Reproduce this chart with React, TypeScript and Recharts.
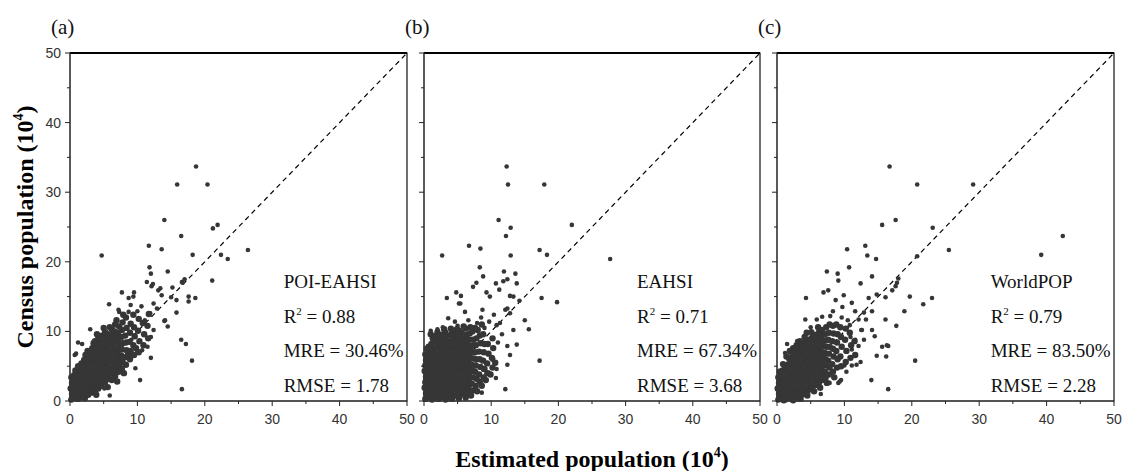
import React from 'react';
import { ScatterChart, Scatter, XAxis, YAxis, ReferenceLine, ReferenceArea } from 'recharts';

type Pt = [number, number];

// axis ticks: majors carry labels, the odd fives are minor marks
const axisTicks = [0, 5, 10, 15, 20, 25, 30, 35, 40, 45, 50];
const panelTags = ['(a)', '(b)', '(c)'];
const modelNames = ['POI-EAHSI', 'EAHSI', 'WorldPOP'];
const r2Values = ['0.88', '0.71', '0.79'];
const mreValues = ['30.46%', '67.34%', '83.50%'];
const rmseValues = ['1.78', '3.68', '2.28'];

// (a) POI-EAHSI
const poiDense: Pt[] = [
  [0.2,0.2],[0.3,1.0],[0.1,1.8],[0.3,2.6],[0.2,3.4],
  [0.7,0.5],[0.6,1.3],[0.8,2.1],[0.7,2.9],[0.6,3.7],[0.8,4.4],
  [1.2,0.3],[1.1,1.0],[1.3,1.8],[1.2,2.6],[1.1,3.4],[1.3,4.2],[1.2,5.0],
  [1.7,0.6],[1.8,1.4],[1.6,2.2],[1.7,3.0],[1.8,3.8],[1.6,4.6],[1.7,5.4],
  [2.2,0.4],[2.1,1.1],[2.3,1.9],[2.2,2.7],[2.1,3.5],[2.3,4.3],[2.2,5.1],[2.1,5.9],[2.3,6.6],
  [2.7,0.9],[2.8,1.6],[2.6,2.4],[2.7,3.2],[2.8,4.0],[2.6,4.8],[2.7,5.6],[2.8,6.4],[2.6,7.2],
  [3.2,1.2],[3.1,2.0],[3.3,2.8],[3.2,3.6],[3.1,4.4],[3.3,5.2],[3.2,6.0],[3.1,6.8],[3.3,7.6],
  [3.7,1.5],[3.8,2.3],[3.6,3.1],[3.7,3.9],[3.8,4.7],[3.6,5.5],[3.7,6.3],[3.8,7.1],[3.6,7.9],[3.7,8.6],
  [4.2,1.8],[4.1,2.6],[4.3,3.4],[4.2,4.2],[4.1,5.0],[4.3,5.8],[4.2,6.6],[4.1,7.4],[4.3,8.2],[4.2,9.0],
  [4.7,2.2],[4.8,3.0],[4.6,3.8],[4.7,4.6],[4.8,5.4],[4.6,6.2],[4.7,7.0],[4.8,7.8],[4.6,8.6],[4.7,9.4],
  [5.2,2.7],[5.1,3.5],[5.3,4.3],[5.2,5.1],[5.1,5.9],[5.3,6.7],[5.2,7.5],[5.1,8.3],[5.3,9.1],[5.2,9.9],
  [5.7,3.2],[5.8,4.0],[5.6,4.8],[5.7,5.6],[5.8,6.4],[5.6,7.2],[5.7,8.0],[5.8,8.8],[5.6,9.6],
  [6.2,3.0],[6.1,3.9],[6.3,4.7],[6.2,5.5],[6.1,6.3],[6.3,7.1],[6.2,7.9],[6.1,8.7],[6.3,9.5],[6.2,10.3],
  [6.7,3.6],[6.8,4.4],[6.6,5.2],[6.7,6.0],[6.8,6.8],[6.6,7.6],[6.7,8.4],[6.8,9.2],[6.6,10.0],[6.7,11.0],
  [7.2,4.2],[7.1,5.0],[7.3,5.8],[7.2,6.6],[7.1,7.4],[7.3,8.2],[7.2,9.0],[7.1,9.8],[7.3,10.7],
  [7.7,4.6],[7.8,5.6],[7.6,6.5],[7.7,7.4],[7.8,8.3],[7.6,9.2],[7.7,10.2],[7.8,11.3],
  [8.3,5.2],[8.2,6.3],[8.4,7.3],[8.3,8.4],[8.2,9.4],[8.4,10.5],[8.3,12.0],
  [8.9,6.0],[9.0,7.2],[8.8,8.5],[8.9,9.8],[9.0,11.1],
  [9.5,6.6],[9.4,8.0],[9.6,9.3],[9.5,10.6],[9.4,12.4],
  [10.2,7.0],[10.3,8.6],[10.1,10.1],[10.2,11.8],
  [10.9,8.0],[11.0,9.6],[10.8,11.2],
  [11.6,9.0],[11.5,10.8],[11.7,12.5],
  [0.5,0.9],[1.0,2.3],[1.5,3.6],[2.0,4.8],[2.5,5.9],[3.0,7.2],[3.5,8.3],[4.0,9.6],
  [2.4,1.4],[3.4,2.4],[4.4,2.9],[5.4,3.9],[6.4,4.3],[7.4,5.4],[8.6,6.6],[9.8,7.6],
  [5.0,10.5],[5.9,10.6],[6.9,11.6],[7.9,12.4],[3.9,0.9],[5.6,2.0],[7.0,2.8],[8.0,4.0],
];
const poiSparse: Pt[] = [
  [18.7,33.7],[15.9,31.1],[20.4,31.1],[14.0,26.0],[21.2,24.8],[21.9,25.3],[16.5,23.7],
  [4.7,20.9],[11.7,22.3],[13.6,21.8],[18.2,21.0],[22.4,21.0],[23.4,20.4],[26.4,21.7],
  [21.1,17.3],[18.6,14.8],[17.6,14.3],[17.6,15.0],[16.6,17.1],[17.0,17.5],[15.2,16.3],
  [14.5,18.6],[15.8,14.5],[15.8,12.7],[14.0,11.5],[14.5,10.7],[16.5,8.8],[17.2,8.2],
  [18.1,5.8],[16.6,1.7],[10.4,3.0],[12.0,6.2],[5.9,0.8],[11.8,19.2],[12.0,18.3],
  [11.4,17.1],[12.1,16.5],[13.1,15.9],[13.6,15.2],[12.9,13.3],[12.4,14.0],[7.7,15.6],
  [9.5,15.6],[9.4,15.0],[8.7,14.8],[5.8,13.9],[7.2,13.1],[3.0,10.3],[1.2,8.4],[1.8,8.2],
  [0.9,6.8],[12.3,16.8],[13.4,16.2],[16.7,17.0],[15.0,14.9],[14.1,11.6],[8.7,12.8],
  [7.3,12.8],[0.7,6.6],[11.1,11.6],[12.4,10.2],[11.5,7.8],[12.0,9.2],[10.7,7.3],[9.9,7.3],
  [9.1,8.8],[10.6,13.6],[9.7,4.7],[6.5,3.1],[5.1,1.8],[10.0,12.9],[9.0,13.8],[11.9,12.6],
];

// (b) EAHSI
const eahsiDense: Pt[] = [
  [0.2,0.3],[0.3,1.1],[0.1,1.9],[0.2,2.7],[0.3,3.5],[0.1,4.3],[0.2,5.1],[0.3,5.9],[0.2,6.7],
  [0.7,0.6],[0.6,1.4],[0.8,2.2],[0.7,3.0],[0.6,3.8],[0.8,4.6],[0.7,5.4],[0.6,6.2],[0.8,7.0],[0.7,7.8],
  [1.2,0.2],[1.1,1.0],[1.3,1.8],[1.2,2.6],[1.1,3.4],[1.3,4.2],[1.2,5.0],[1.1,5.8],[1.3,6.6],[1.2,7.4],[1.1,8.2],[1.3,9.0],
  [1.7,0.5],[1.8,1.3],[1.6,2.1],[1.7,2.9],[1.8,3.7],[1.6,4.5],[1.7,5.3],[1.8,6.1],[1.6,6.9],[1.7,7.7],[1.8,8.5],[1.6,9.3],
  [2.2,0.3],[2.1,1.1],[2.3,1.9],[2.2,2.7],[2.1,3.5],[2.3,4.3],[2.2,5.1],[2.1,5.9],[2.3,6.7],[2.2,7.5],[2.1,8.3],[2.3,9.1],
  [2.7,0.6],[2.8,1.4],[2.6,2.2],[2.7,3.0],[2.8,3.8],[2.6,4.6],[2.7,5.4],[2.8,6.2],[2.6,7.0],[2.7,7.8],[2.8,8.6],[2.6,9.5],
  [3.2,0.2],[3.1,1.0],[3.3,1.8],[3.2,2.6],[3.1,3.4],[3.3,4.2],[3.2,5.0],[3.1,5.8],[3.3,6.6],[3.2,7.4],[3.1,8.2],[3.3,9.0],[3.2,9.8],
  [3.7,0.5],[3.8,1.3],[3.6,2.1],[3.7,2.9],[3.8,3.7],[3.6,4.5],[3.7,5.3],[3.8,6.1],[3.6,6.9],[3.7,7.7],[3.8,8.5],[3.6,9.4],
  [4.2,0.3],[4.1,1.1],[4.3,1.9],[4.2,2.7],[4.1,3.5],[4.3,4.3],[4.2,5.1],[4.1,5.9],[4.3,6.7],[4.2,7.5],[4.1,8.3],[4.3,9.1],[4.2,9.9],
  [4.7,0.8],[4.8,1.6],[4.6,2.4],[4.7,3.2],[4.8,4.0],[4.6,4.8],[4.7,5.6],[4.8,6.4],[4.6,7.2],[4.7,8.0],[4.8,8.8],[4.6,9.6],
  [5.2,0.4],[5.1,1.2],[5.3,2.0],[5.2,2.8],[5.1,3.6],[5.3,4.4],[5.2,5.2],[5.1,6.0],[5.3,6.8],[5.2,7.6],[5.1,8.4],[5.3,9.2],[5.2,10.1],
  [5.7,1.0],[5.8,1.8],[5.6,2.6],[5.7,3.4],[5.8,4.2],[5.6,5.0],[5.7,5.8],[5.8,6.6],[5.6,7.4],[5.7,8.2],[5.8,9.0],[5.6,9.8],
  [6.2,0.5],[6.1,1.4],[6.3,2.2],[6.2,3.0],[6.1,3.8],[6.3,4.6],[6.2,5.4],[6.1,6.2],[6.3,7.0],[6.2,7.8],[6.1,8.6],[6.3,9.5],[6.2,10.4],
  [6.7,1.6],[6.8,2.4],[6.6,3.2],[6.7,4.0],[6.8,4.8],[6.6,5.6],[6.7,6.4],[6.8,7.2],[6.6,8.0],[6.7,8.8],[6.8,9.7],
  [7.2,1.5],[7.1,2.5],[7.3,3.4],[7.2,4.3],[7.1,5.2],[7.3,6.1],[7.2,7.0],[7.1,7.9],[7.3,8.8],[7.2,10.0],
  [7.7,2.2],[7.8,3.2],[7.6,4.2],[7.7,5.1],[7.8,6.0],[7.6,7.0],[7.7,8.0],[7.8,9.0],[7.6,10.5],
  [8.3,2.8],[8.2,3.8],[8.4,4.9],[8.3,6.0],[8.2,7.1],[8.4,8.3],[8.3,9.4],
  [8.9,3.4],[9.0,4.6],[8.8,5.8],[8.9,7.0],[9.0,8.2],[8.8,9.6],
  [9.5,4.0],[9.4,5.4],[9.6,6.8],[9.5,8.2],
  [10.2,4.8],[10.1,6.2],[10.3,7.6],[10.2,9.0],
  [0.4,7.5],[1.0,9.6],[2.0,9.9],[3.0,10.3],[4.0,10.4],[4.9,10.3],[5.9,10.7],[6.9,10.6],
  [8.0,10.2],[8.6,11.0],[7.0,0.8],[7.9,1.4],[8.6,2.2],[9.2,3.0],[9.9,3.8],[10.6,5.5],
];
const eahsiSparse: Pt[] = [
  [12.3,33.7],[12.5,31.1],[17.9,31.1],[11.1,26.0],[12.9,24.9],[12.2,23.7],[22.0,25.3],
  [2.7,20.9],[6.7,22.3],[8.4,21.9],[12.9,20.9],[17.2,21.7],[18.3,21.0],[27.7,20.4],
  [8.3,19.2],[11.9,18.6],[12.4,17.5],[13.6,18.3],[13.8,16.9],[10.7,16.9],[19.8,14.2],
  [17.5,14.8],[17.2,5.8],[12.1,1.7],[6.4,1.1],[10.7,3.3],[3.4,14.8],[4.8,15.6],[5.4,14.0],
  [7.3,16.4],[7.8,17.0],[9.3,15.6],[9.8,15.0],[13.3,15.0],[14.2,14.4],[15.0,11.6],
  [15.6,10.3],[13.8,8.1],[12.4,7.9],[13.3,10.2],[11.3,11.2],[12.1,13.1],[8.7,13.1],
  [10.3,6.1],[9.6,6.8],[8.8,4.5],[11.8,17.2],[8.8,17.9],[5.5,15.1],[5.2,14.0],[11.2,16.0],
  [12.8,15.1],[12.8,12.6],[12.4,13.3],[11.6,9.6],[10.8,10.9],[9.7,11.4],[3.6,11.9],
  [4.6,11.4],[2.0,10.3],[6.1,12.8],[6.6,11.6],[8.5,12.0],[10.4,12.4],[12.4,5.2],
  [12.8,6.6],[10.2,5.9],[9.3,4.0],[7.7,2.0],[6.8,3.0],[1.0,10.1],[2.8,10.6],[5.0,10.8],
  [7.9,11.2],[9.0,10.5],[11.0,8.4],[10.8,4.6],[8.6,1.2],
];

// (c) WorldPOP
const worldDense: Pt[] = [
  [0.2,0.2],[0.3,1.0],[0.1,1.8],[0.3,2.6],[0.2,3.4],
  [0.7,0.4],[0.6,1.2],[0.8,2.0],[0.7,2.8],[0.6,3.6],[0.8,4.4],
  [1.2,0.2],[1.1,1.0],[1.3,1.8],[1.2,2.6],[1.1,3.4],[1.3,4.2],[1.2,5.0],
  [1.7,0.5],[1.8,1.3],[1.6,2.1],[1.7,2.9],[1.8,3.7],[1.6,4.5],[1.7,5.3],[1.8,6.1],
  [2.2,0.3],[2.1,1.1],[2.3,1.9],[2.2,2.7],[2.1,3.5],[2.3,4.3],[2.2,5.1],[2.1,5.9],[2.3,6.7],
  [2.7,0.7],[2.8,1.5],[2.6,2.3],[2.7,3.1],[2.8,3.9],[2.6,4.7],[2.7,5.5],[2.8,6.3],[2.6,7.1],
  [3.2,0.4],[3.1,1.2],[3.3,2.0],[3.2,2.8],[3.1,3.6],[3.3,4.4],[3.2,5.2],[3.1,6.0],[3.3,6.8],[3.2,7.6],
  [3.7,0.9],[3.8,1.7],[3.6,2.5],[3.7,3.3],[3.8,4.1],[3.6,4.9],[3.7,5.7],[3.8,6.5],[3.6,7.3],[3.7,8.1],
  [4.2,1.2],[4.1,2.0],[4.3,2.8],[4.2,3.6],[4.1,4.4],[4.3,5.2],[4.2,6.0],[4.1,6.8],[4.3,7.6],[4.2,8.4],[4.1,9.2],
  [4.7,1.6],[4.8,2.4],[4.6,3.2],[4.7,4.0],[4.8,4.8],[4.6,5.6],[4.7,6.4],[4.8,7.2],[4.6,8.0],[4.7,8.8],
  [5.2,1.9],[5.1,2.7],[5.3,3.5],[5.2,4.3],[5.1,5.1],[5.3,5.9],[5.2,6.7],[5.1,7.5],[5.3,8.3],[5.2,9.1],[5.1,9.9],
  [5.7,2.3],[5.8,3.1],[5.6,3.9],[5.7,4.7],[5.8,5.5],[5.6,6.3],[5.7,7.1],[5.8,7.9],[5.6,8.7],[5.7,9.5],
  [6.2,2.6],[6.1,3.4],[6.3,4.2],[6.2,5.0],[6.1,5.8],[6.3,6.6],[6.2,7.4],[6.1,8.2],[6.3,9.0],[6.2,9.8],[6.1,10.6],
  [6.7,3.0],[6.8,3.8],[6.6,4.6],[6.7,5.4],[6.8,6.2],[6.6,7.0],[6.7,7.8],[6.8,8.6],[6.6,9.4],[6.7,10.2],
  [7.2,3.3],[7.1,4.2],[7.3,5.1],[7.2,6.0],[7.1,6.9],[7.3,7.8],[7.2,8.7],[7.1,9.6],[7.3,10.6],
  [7.7,3.8],[7.8,4.8],[7.6,5.8],[7.7,6.8],[7.8,7.8],[7.6,8.8],[7.7,9.8],[7.8,11.0],
  [8.3,4.2],[8.2,5.3],[8.4,6.4],[8.3,7.5],[8.2,8.6],[8.4,9.7],[8.3,10.8],
  [8.9,4.8],[9.0,6.0],[8.8,7.2],[8.9,8.4],[9.0,9.6],[8.8,11.0],
  [9.5,5.0],[9.4,6.4],[9.6,7.8],[9.5,9.2],[9.4,10.6],
  [10.2,5.6],[10.3,7.2],[10.1,8.8],[10.2,10.4],
  [10.9,6.2],[11.0,8.0],[10.8,9.8],
  [11.6,6.6],[11.5,8.6],
  [0.4,4.2],[0.9,5.3],[1.4,6.4],[1.9,7.2],[2.4,7.6],[2.9,8.0],[3.4,8.6],[4.4,9.8],
  [1.0,0.1],[2.4,0.1],[3.5,0.3],[4.5,0.8],[5.5,1.4],[6.4,1.9],[7.4,2.6],[8.5,3.4],
];
const worldSparse: Pt[] = [
  [16.7,33.7],[20.8,31.1],[29.1,31.1],[15.6,25.3],[17.6,26.0],[23.1,24.9],[42.4,23.7],
  [39.2,21.0],[10.4,21.8],[13.1,22.3],[13.4,20.9],[14.7,20.4],[20.8,20.8],[25.5,21.7],
  [7.4,18.6],[10.7,19.2],[9.0,18.3],[9.1,17.3],[6.9,15.6],[7.6,15.9],[4.3,14.8],
  [12.4,16.9],[14.1,17.9],[18.0,17.6],[17.6,16.5],[17.1,15.9],[19.7,15.0],[23.0,14.8],
  [21.7,13.9],[18.9,12.9],[17.7,10.8],[16.1,11.7],[14.8,15.3],[20.5,5.8],[16.5,1.7],
  [14.0,3.0],[16.3,8.0],[16.2,6.4],[14.8,6.5],[14.5,9.3],[13.2,11.7],[12.6,10.2],
  [10.8,10.9],[11.8,5.2],[9.3,2.8],[6.5,1.0],[4.6,1.1],[8.7,14.5],[9.9,15.2],[9.7,13.5],
  [11.1,14.1],[13.6,14.8],[17.8,17.0],[16.1,14.9],[14.1,12.9],[12.9,12.7],[12.1,11.7],
  [14.1,10.2],[12.5,10.2],[15.6,7.8],[16.5,7.9],[12.4,5.6],[11.1,5.1],[10.0,5.1],
  [9.1,2.6],[9.5,3.0],[1.5,8.2],[1.2,6.9],[4.2,11.7],[5.9,11.7],[6.7,12.1],[7.9,12.2],
  [10.9,9.2],[11.6,8.8],[12.9,8.8],[11.1,7.4],[12.1,7.9],[3.0,8.6],[5.0,10.6],[8.3,12.9],
  [9.6,12.0],[10.5,11.6],[11.6,12.9],[10.3,4.2],[7.8,2.6],
];

const panels = [
  { left: 70, right: 407, dense: poiDense, sparse: poiSparse },
  { left: 424, right: 760, dense: eahsiDense, sparse: eahsiSparse },
  { left: 777, right: 1114, dense: worldDense, sparse: worldSparse },
];

const W = 1124;
const H = 471;
const TOP = 53;
const BOTTOM = 401;
const SANS = '"Liberation Sans", Arial, sans-serif';
const SERIF = '"Liberation Serif", "Times New Roman", serif';
const DOT = '#363636';

const XTick = (p: any) => {
  const major = p.payload.value % 10 === 0;
  return (
    <g>
      <line x1={p.x} x2={p.x} y1={p.y} y2={p.y + (major ? 5 : 3)} stroke="#222" />
      {major && (
        <text x={p.x} y={p.y + 23} textAnchor="middle" fontFamily={SANS} fontSize={14} fill="#333">
          {p.payload.value}
        </text>
      )}
    </g>
  );
};

const YTick = (p: any, labels: boolean) => {
  const major = p.payload.value % 10 === 0;
  return (
    <g>
      <line x1={p.x} x2={p.x - (major ? 5 : 3)} y1={p.y} y2={p.y} stroke="#222" />
      {major && labels && (
        <text x={p.x - 9} y={p.y + 5} textAnchor="end" fontFamily={SANS} fontSize={14} fill="#333">
          {p.payload.value}
        </text>
      )}
    </g>
  );
};

const BigDot = (p: any) => <circle cx={p.cx} cy={p.cy} r={3.2} fill={DOT} />;
const SmallDot = (p: any) => <circle cx={p.cx} cy={p.cy} r={2.3} fill={DOT} />;

const toRows = (pts: Pt[]) => pts.map(([x, y]) => ({ x, y }));

const Panel = ({ left, right, dense, sparse, index }: { left: number; right: number; dense: Pt[]; sparse: Pt[]; index: number }) => (
  <div style={{ position: 'absolute', left: 0, top: 0 }}>
    <ScatterChart width={W} height={H} margin={{ top: TOP, left: left - 1, right: W - right, bottom: H - BOTTOM - 1 }}>
      <XAxis
        type="number"
        dataKey="x"
        domain={[0, 50]}
        ticks={axisTicks}
        interval={0}
        height={1}
        tickSize={0}
        tickMargin={0}
        tickLine={false}
        axisLine={{ stroke: '#222' }}
        tick={(p: any) => <XTick {...p} />}
      />
      <YAxis
        type="number"
        dataKey="y"
        domain={[0, 50]}
        ticks={axisTicks}
        interval={0}
        width={1}
        tickSize={0}
        tickMargin={0}
        tickLine={false}
        axisLine={{ stroke: '#444' }}
        tick={(p: any) => YTick(p, index === 0)}
      />
      <ReferenceArea x1={0} x2={50} y1={0} y2={50} fill="none" stroke="#111" strokeWidth={1.2} />
      <ReferenceLine y={50} stroke="#000" strokeWidth={2} />
      <Scatter data={toRows(dense)} isAnimationActive={false} shape={BigDot} />
      <Scatter data={toRows(sparse)} isAnimationActive={false} shape={SmallDot} />
      <ReferenceLine
        segment={[{ x: 0, y: 0 }, { x: 50, y: 50 }]}
        stroke="#000"
        strokeWidth={1.2}
        strokeDasharray="5 4"
      />
    </ScatterChart>
  </div>
);

export default function App() {
  return (
    <div style={{ position: 'absolute', left: 0, top: 0, width: W, height: H, background: '#fff' }}>
      {panels.map((p, i) => (
        <Panel key={i} index={i} left={p.left} right={p.right} dense={p.dense} sparse={p.sparse} />
      ))}
      <svg width={W} height={H} style={{ position: 'absolute', left: 0, top: 0, pointerEvents: 'none' }}>
        {panels.map((p, i) => {
          const tx = p.left + (31.7 / 50) * (p.right - p.left);
          return (
            <g key={i} fontFamily={SERIF} fill="#111">
              <text x={p.left - 19} y={34} fontSize={21}>{panelTags[i]}</text>
              <text x={tx} y={288} fontSize={19}>{modelNames[i]}</text>
              <text x={tx} y={323} fontSize={19}>
                R<tspan dy={-8} fontSize={11}>2</tspan>
                <tspan dy={8}> = {r2Values[i]}</tspan>
              </text>
              <text x={tx} y={357} fontSize={19}>MRE = {mreValues[i]}</text>
              <text x={tx} y={392} fontSize={19}>RMSE = {rmseValues[i]}</text>
            </g>
          );
        })}
        <text
          x={33}
          y={227}
          transform="rotate(-90 33 227)"
          textAnchor="middle"
          fontFamily={SERIF}
          fontWeight="bold"
          fontSize={24}
          fill="#000"
        >
          Census population (10<tspan dy={-10} fontSize={14}>4</tspan>
          <tspan dy={10}>)</tspan>
        </text>
        <text x={592} y={467} textAnchor="middle" fontFamily={SERIF} fontWeight="bold" fontSize={24} fill="#000">
          Estimated population (10<tspan dy={-10} fontSize={14}>4</tspan>
          <tspan dy={10}>)</tspan>
        </text>
      </svg>
    </div>
  );
}
